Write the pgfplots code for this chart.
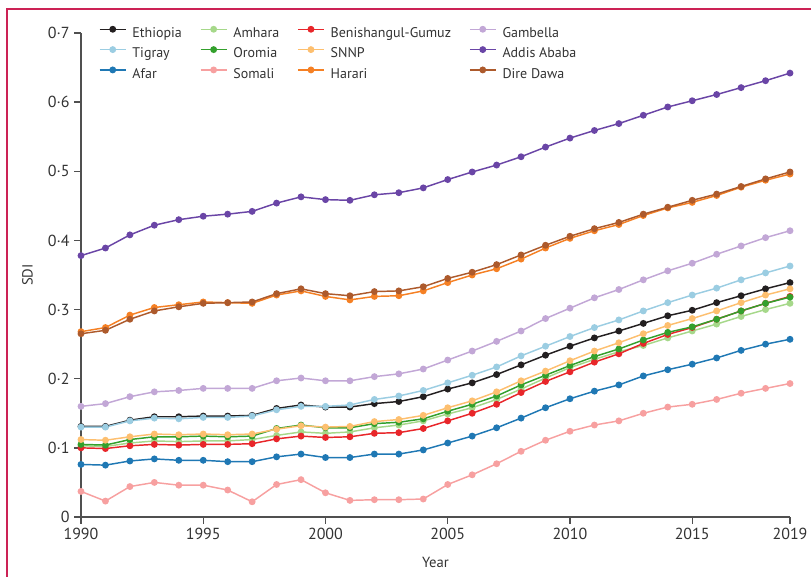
\documentclass[border=0pt]{standalone}
\usepackage{fontspec}
\setmainfont{PT Sans}
\usepackage{pgfplots}
\usepackage{pgfplotstable}
\pgfplotsset{compat=1.18}

\definecolor{framecol}{HTML}{CC2255}
\definecolor{axisgray}{HTML}{505050}
\definecolor{textgray}{HTML}{333333}
\definecolor{cEth}{HTML}{231F20}
\definecolor{cTig}{HTML}{9BCDE2}
\definecolor{cAfar}{HTML}{1F78B4}
\definecolor{cAmh}{HTML}{A6D88A}
\definecolor{cOro}{HTML}{33A02C}
\definecolor{cSom}{HTML}{F7A0A0}
\definecolor{cBG}{HTML}{E8262A}
\definecolor{cSNNP}{HTML}{FDBF6F}
\definecolor{cHar}{HTML}{F58024}
\definecolor{cGam}{HTML}{C2A7D6}
\definecolor{cAA}{HTML}{6A45A6}
\definecolor{cDD}{HTML}{AD5A2C}

% SDI by region, 1990-2019
\pgfplotstableread{
year eth  tig  afar amh  oro  som  bg   snnp har  gam  aa   dd
1990 .131 .130 .076 .103 .105 .037 .100 .112 .268 .160 .378 .265
1991 .131 .130 .075 .102 .104 .023 .099 .111 .274 .164 .389 .270
1992 .140 .139 .081 .107 .112 .044 .103 .116 .292 .174 .408 .286
1993 .145 .143 .084 .110 .116 .050 .105 .120 .303 .181 .422 .298
1994 .145 .142 .082 .109 .116 .046 .104 .119 .307 .183 .430 .304
1995 .146 .144 .082 .110 .117 .046 .105 .120 .311 .186 .435 .309
1996 .146 .144 .080 .110 .116 .039 .105 .119 .310 .186 .438 .310
1997 .147 .146 .080 .112 .117 .022 .106 .120 .309 .186 .442 .311
1998 .157 .155 .087 .118 .128 .047 .113 .127 .321 .197 .454 .323
1999 .162 .160 .091 .123 .133 .054 .117 .132 .327 .201 .463 .330
2000 .159 .160 .086 .121 .129 .035 .115 .130 .319 .197 .459 .323
2001 .159 .162 .086 .123 .129 .024 .116 .131 .314 .197 .458 .320
2002 .164 .170 .091 .129 .135 .025 .121 .138 .319 .203 .466 .326
2003 .167 .175 .091 .133 .137 .025 .122 .141 .320 .207 .469 .327
2004 .174 .183 .097 .139 .142 .026 .128 .147 .327 .214 .476 .333
2005 .185 .194 .107 .149 .153 .047 .139 .158 .339 .227 .488 .345
2006 .194 .205 .117 .158 .163 .061 .150 .168 .350 .240 .499 .354
2007 .206 .217 .129 .170 .175 .077 .163 .181 .359 .254 .509 .365
2008 .220 .233 .143 .185 .191 .095 .180 .197 .373 .269 .521 .379
2009 .234 .247 .158 .201 .205 .111 .196 .211 .389 .287 .535 .393
2010 .247 .261 .171 .216 .219 .124 .210 .226 .403 .302 .548 .406
2011 .259 .274 .182 .228 .232 .133 .224 .240 .414 .317 .559 .417
2012 .269 .285 .191 .239 .243 .139 .236 .252 .423 .329 .569 .426
2013 .280 .298 .204 .248 .256 .150 .251 .265 .436 .343 .581 .438
2014 .291 .310 .213 .259 .267 .159 .264 .277 .447 .356 .593 .448
2015 .299 .321 .221 .269 .275 .163 .274 .287 .455 .367 .602 .458
2016 .310 .331 .230 .279 .286 .170 .286 .298 .465 .380 .611 .467
2017 .320 .343 .241 .290 .298 .179 .298 .310 .477 .392 .621 .478
2018 .330 .353 .250 .300 .309 .186 .309 .321 .487 .404 .631 .489
2019 .339 .363 .257 .309 .318 .193 .319 .330 .496 .414 .642 .499
}\sdi

\begin{document}
\begin{tikzpicture}[x=1pt,y=1pt]
\useasboundingbox (0,0) rectangle (608.25,432.75);
\draw[framecol, line width=1.4pt] (608.25,426) -- (5,426) -- (5,0);
\begin{axis}[
  at={(60.75pt,45pt)}, anchor=south west,
  scale only axis, width=531.75pt, height=363pt,
  xmin=1990, xmax=2019, ymin=0, ymax=0.7,
  axis lines=left,
  axis line style={-, line width=1.1pt, color=axisgray},
  tick align=outside, major tick length=5pt,
  tick style={axisgray, line width=1pt},
  xtick={1990,1995,2000,2005,2010,2015,2019},
  xticklabels={1990,1995,2000,2005,2010,2015,2019},
  ytick={0,0.1,0.2,0.3,0.4,0.5,0.6,0.7},
  yticklabels={0,0·1,0·2,0·3,0·4,0·5,0·6,0·7},
  ticklabel style={font=\fontsize{12}{14}\selectfont, text=textgray},
  xlabel={Year}, ylabel={SDI},
  every axis x label/.style={at={(axis description cs:0.5,0)}, anchor=base, yshift=-37.7pt, font=\fontsize{11}{13}\selectfont, text=textgray},
  every axis y label/.style={at={([xshift=-40.1pt]axis description cs:0,0.5)}, rotate=90, anchor=center, font=\fontsize{11}{13}\selectfont, text=textgray},
  clip=false,
  every axis plot/.append style={line width=1.1pt, mark=*, mark size=2pt},
  legend columns=4, legend cell align=left,
  legend style={at={(axis description cs:0.0254,1.0132)}, anchor=north west,
    draw=none, fill=none, inner sep=0pt, outer sep=0pt,
    font=\fontsize{10.5}{12}\selectfont, text=textgray,
    nodes={inner sep=0pt, text height=8pt, text depth=2.5pt},
    row sep=4.5pt,
    /tikz/every odd column/.append style={column sep=4.5pt},
    /tikz/every even column/.append style={column sep=13.5pt}},
  legend image code/.code={\draw[mark repeat=2, mark phase=2, #1] plot coordinates {(0pt,3.5pt) (9.75pt,3.5pt) (19.5pt,3.5pt)};},
]
\addplot[cEth] table[x=year,y=eth] {\sdi}; \addlegendentry{Ethiopia}
\addplot[cAmh] table[x=year,y=amh] {\sdi}; \addlegendentry{Amhara}
\addplot[cBG] table[x=year,y=bg] {\sdi}; \addlegendentry{Benishangul-Gumuz}
\addplot[cGam] table[x=year,y=gam] {\sdi}; \addlegendentry{Gambella}
\addplot[cTig] table[x=year,y=tig] {\sdi}; \addlegendentry{Tigray}
\addplot[cOro] table[x=year,y=oro] {\sdi}; \addlegendentry{Oromia}
\addplot[cSNNP] table[x=year,y=snnp] {\sdi}; \addlegendentry{SNNP}
\addplot[cAA] table[x=year,y=aa] {\sdi}; \addlegendentry{Addis Ababa}
\addplot[cAfar] table[x=year,y=afar] {\sdi}; \addlegendentry{Afar}
\addplot[cSom] table[x=year,y=som] {\sdi}; \addlegendentry{Somali}
\addplot[cHar] table[x=year,y=har] {\sdi}; \addlegendentry{Harari}
\addplot[cDD] table[x=year,y=dd] {\sdi}; \addlegendentry{Dire Dawa}
\end{axis}
\end{tikzpicture}
\end{document}
